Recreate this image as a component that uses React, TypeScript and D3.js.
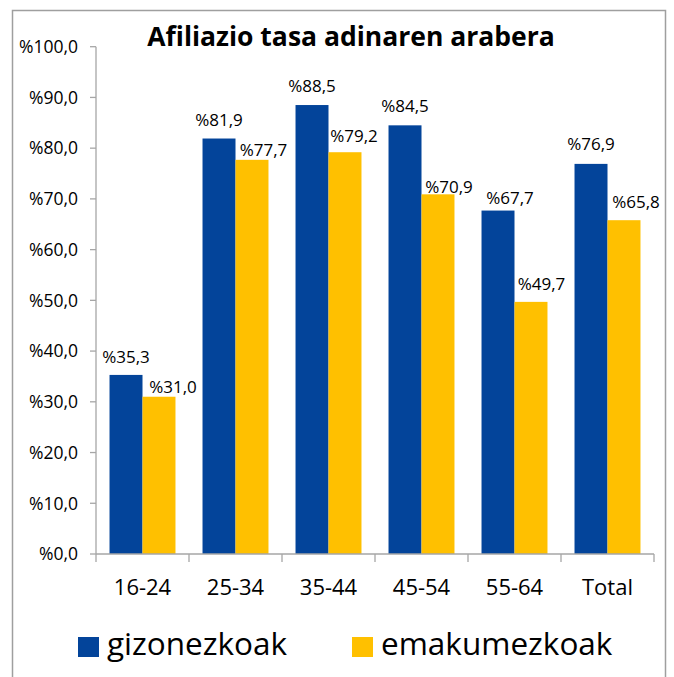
import React from "react";
import * as d3 from "d3";

const categories = ["16-24", "25-34", "35-44", "45-54", "55-64", "Total"];
const seriesNames = ["gizonezkoak", "emakumezkoak"];
const menValues = [35.3, 81.9, 88.5, 84.5, 67.7, 76.9];
const womenValues = [31.0, 77.7, 79.2, 70.9, 49.7, 65.8];
const yTickValues = [0, 10, 20, 30, 40, 50, 60, 70, 80, 90, 100];
const title = "Afiliazio tasa adinaren arabera";

// manual label nudges (dx, dy) as positioned in the original chart
const menLabelNudge = [[0, -12], [0, -13], [0, -13.5], [0, -13.5], [12, -7], [0, -14]];
const womenLabelNudge = [[14, -4], [11.5, -4], [9, -10], [11, -1], [10.5, -12], [12, -12.5]];

const W = 674;
const H = 677;
const BLUE = "#03449a";
const GOLD = "#FFC000";
const AXIS = "#a6a6a6";
const FONT = "'Open Sans', 'Noto Sans', sans-serif";

const fmt = (v: number) => "%" + v.toFixed(1).replace(".", ",");

export default function App() {
  const x0 = d3.scaleBand<string>().domain(categories).range([96, 654]);
  const x1 = d3
    .scaleBand<string>()
    .domain(seriesNames)
    .range([0, x0.bandwidth()])
    .paddingInner(0)
    .paddingOuter(0.41);
  const y = d3.scaleLinear().domain([0, 100]).range([554, 46.7]);

  const series = [
    { name: seriesNames[0], values: menValues, color: BLUE, nudge: menLabelNudge },
    { name: seriesNames[1], values: womenValues, color: GOLD, nudge: womenLabelNudge },
  ];

  const boundaries = [...categories.map((c) => x0(c) as number), 654];

  return (
    <svg
      width={W}
      height={H}
      style={{ position: "absolute", left: 0, top: 0, background: "#fff" }}
      fontFamily={FONT}
    >
      <rect x={0} y={0} width={W} height={H} fill="#fff" />
      <rect x={12.5} y={10.5} width={653} height={700} fill="none" stroke="#9f9f9f" strokeWidth={1.5} />

      <text x={351} y={46} textAnchor="middle" fontWeight="bold" fontSize={26.5} fill="#000">
        {title}
      </text>

      {/* y axis */}
      <line x1={96} x2={96} y1={y(100)} y2={y(0)} stroke={AXIS} strokeWidth={1.3} />
      {yTickValues.map((t) => (
        <g key={t}>
          <line x1={90} x2={96} y1={y(t)} y2={y(t)} stroke={AXIS} strokeWidth={1.3} />
          <text x={78} y={y(t)} dy="0.36em" textAnchor="end" fontSize={17.5} fill="#000">
            {fmt(t)}
          </text>
        </g>
      ))}

      {/* bars */}
      {series.map((s) =>
        categories.map((c, i) => {
          const bx = (x0(c) as number) + (x1(s.name) as number);
          return (
            <rect
              key={s.name + c}
              x={bx}
              y={y(s.values[i])}
              width={x1.bandwidth()}
              height={y(0) - y(s.values[i])}
              fill={s.color}
            />
          );
        })
      )}

      {/* x axis */}
      <line x1={96} x2={654} y1={y(0)} y2={y(0)} stroke={AXIS} strokeWidth={1.3} />
      {boundaries.map((b, i) => (
        <line key={i} x1={b} x2={b} y1={y(0)} y2={y(0) + 8} stroke={AXIS} strokeWidth={1.3} />
      ))}
      {categories.map((c) => (
        <text
          key={c}
          x={(x0(c) as number) + x0.bandwidth() / 2}
          y={595}
          textAnchor="middle"
          fontSize={22}
          fill="#000"
        >
          {c}
        </text>
      ))}

      {/* data labels */}
      {series.map((s) =>
        categories.map((c, i) => {
          const cx = (x0(c) as number) + (x1(s.name) as number) + x1.bandwidth() / 2;
          return (
            <text
              key={"l" + s.name + c}
              x={cx + s.nudge[i][0]}
              y={y(s.values[i]) + s.nudge[i][1]}
              textAnchor="middle"
              fontSize={17}
              fill="#000"
            >
              {fmt(s.values[i])}
            </text>
          );
        })
      )}

      {/* legend */}
      <rect x={78} y={637} width={21} height={20} fill={BLUE} />
      <text x={107} y={655} fontSize={31.5} fill="#000">
        {seriesNames[0]}
      </text>
      <rect x={352} y={637} width={21} height={20} fill={GOLD} />
      <text x={381} y={655} fontSize={31.5} fill="#000">
        {seriesNames[1]}
      </text>
    </svg>
  );
}
